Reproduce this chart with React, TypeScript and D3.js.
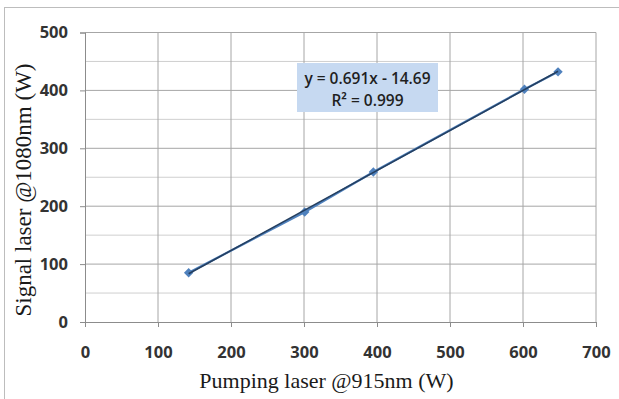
import React, { useEffect, useRef } from 'react';
import * as d3 from 'd3';

// measured points (pump power W, signal power W)
const pumpPower = [142, 301, 395, 602, 648];
const signalPower = [85, 190, 259, 402, 432];

// linear trendline ends, as drawn
const trendPump = [142, 648];
const trendSignal = [83.4, 433.1];

const xTicks = [0, 100, 200, 300, 400, 500, 600, 700];
const yTicks = [0, 100, 200, 300, 400, 500];
const yMinorTicks = [50, 150, 250, 350, 450];

const equationLines = ['y = 0.691x - 14.69', 'R² = 0.999'];

const W = 619;
const H = 399;

const App: React.FC = () => {
    const svgRef = useRef<SVGSVGElement | null>(null);

    useEffect(() => {
        const margin = { top: 32.5, right: 23, bottom: 77, left: 85 };
        const svg = d3.select(svgRef.current);
        svg.selectAll('*').remove();

        // outer frame
        svg.append('rect')
            .attr('x', 4.5).attr('y', 7.5)
            .attr('width', 700).attr('height', 500)
            .attr('fill', 'white')
            .attr('stroke', '#bdbdbd');

        const x = d3.scaleLinear().domain([0, 700]).range([margin.left, W - margin.right]);
        const y = d3.scaleLinear().domain([0, 500]).range([H - margin.bottom, margin.top]);

        // grid
        const grid = svg.append('g');
        grid.selectAll('.minor')
            .data(yMinorTicks)
            .enter().append('line')
            .attr('x1', x(0)).attr('x2', x(700))
            .attr('y1', d => y(d)).attr('y2', d => y(d))
            .attr('stroke', '#cfcfcf').attr('stroke-width', 1);
        grid.selectAll('.hmajor')
            .data(yTicks.slice(1))
            .enter().append('line')
            .attr('x1', x(0)).attr('x2', x(700))
            .attr('y1', d => y(d)).attr('y2', d => y(d))
            .attr('stroke', '#a6a6a6').attr('stroke-width', 1);
        grid.selectAll('.vmajor')
            .data(xTicks.slice(1))
            .enter().append('line')
            .attr('x1', d => x(d)).attr('x2', d => x(d))
            .attr('y1', y(0)).attr('y2', y(500))
            .attr('stroke', '#a6a6a6').attr('stroke-width', 1);

        // axes
        const yAxis = svg.append('g')
            .attr('transform', `translate(${x(0)},0)`)
            .call(d3.axisLeft(y).tickValues(yTicks).tickSize(5).tickPadding(12));
        const xAxis = svg.append('g')
            .attr('transform', `translate(0,${y(0)})`)
            .call(d3.axisBottom(x).tickValues(xTicks).tickSize(5).tickPadding(19));
        [xAxis, yAxis].forEach(a => {
            a.select('.domain').attr('stroke', '#8c8c8c');
            a.selectAll('.tick line').attr('stroke', '#8c8c8c');
            a.selectAll('.tick text')
                .attr('font-family', '"Open Sans", sans-serif')
                .attr('font-weight', 700)
                .attr('font-size', 16.5)
                .attr('fill', '#333333');
        });

        const pts = pumpPower.map((p, i) => [p, signalPower[i]] as [number, number]);

        // data line
        svg.append('path')
            .datum(pts)
            .attr('fill', 'none')
            .attr('stroke', '#4f81bd')
            .attr('stroke-width', 2.2)
            .attr('d', d3.line<[number, number]>().x(d => x(d[0])).y(d => y(d[1])));

        // markers
        svg.selectAll('.marker')
            .data(pts)
            .enter().append('path')
            .attr('transform', d => `translate(${x(d[0])},${y(d[1])})`)
            .attr('d', d3.symbol().type(d3.symbolDiamond2).size(56)())
            .attr('fill', '#4f81bd');

        // trendline
        const trend = trendPump.map((p, i) => [p, trendSignal[i]] as [number, number]);
        svg.append('path')
            .datum(trend)
            .attr('fill', 'none')
            .attr('stroke', '#243f60')
            .attr('stroke-width', 1.6)
            .attr('d', d3.line<[number, number]>().x(d => x(d[0])).y(d => y(d[1])));

        // equation label
        const box = svg.append('g');
        box.append('rect')
            .attr('x', 297).attr('y', 63)
            .attr('width', 141).attr('height', 49)
            .attr('fill', '#c6d9f1');
        box.selectAll('text')
            .data(equationLines)
            .enter().append('text')
            .attr('x', 367.5)
            .attr('y', (_, i) => 83.5 + i * 22)
            .attr('text-anchor', 'middle')
            .attr('font-family', '"Open Sans", sans-serif')
            .attr('font-weight', 600)
            .attr('font-size', 15.5)
            .attr('fill', '#1f1f1f')
            .text(d => d);

        // axis titles
        svg.append('text')
            .attr('x', 326.5).attr('y', 388)
            .attr('text-anchor', 'middle')
            .attr('font-family', '"Liberation Serif", serif')
            .attr('font-size', 22)
            .attr('fill', '#1a1a1a')
            .text('Pumping laser @915nm (W)');
        svg.append('text')
            .attr('transform', 'translate(31,190) rotate(-90)')
            .attr('text-anchor', 'middle')
            .attr('font-family', '"Liberation Serif", serif')
            .attr('font-size', 23)
            .attr('fill', '#1a1a1a')
            .text('Signal laser @1080nm (W)');
    }, []);

    return (
        <svg ref={svgRef} width={W} height={H}
            style={{ position: 'absolute', left: 0, top: 0, background: 'white' }} />
    );
};

export default App;
